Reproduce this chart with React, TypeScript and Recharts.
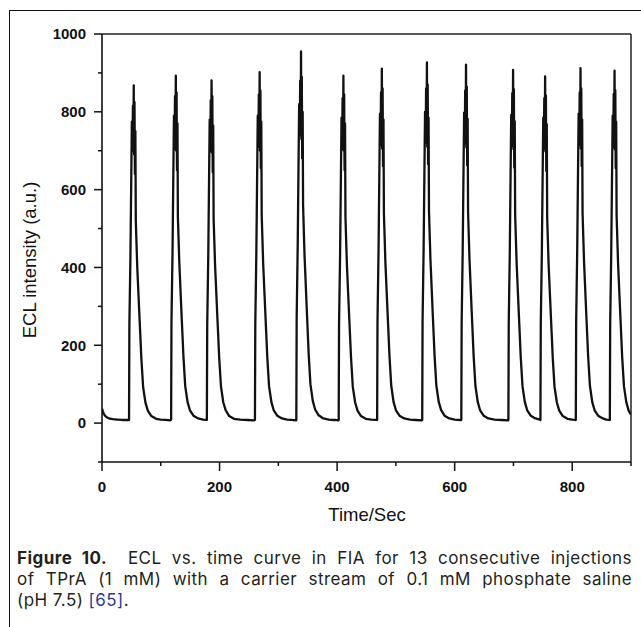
import { LineChart, Line, XAxis, YAxis, ReferenceLine, Label } from "recharts";

// ECL trace, [time (s), intensity (a.u.)] per injection
const leadIn = [[0, 37], [1.5, 30], [3, 24], [5, 19], [8, 15], [12, 12], [18, 10], [26, 9], [34, 8], [42, 8]];
const injection1 = [[46, 8], [46.6, 255], [48.4, 430], [50.8, 775], [51.8, 700], [52.6, 815], [53.4, 715], [54, 868], [54.6, 690], [55.3, 825], [56, 640], [56.8, 750], [57.5, 520], [60, 400], [64, 265], [67, 165], [70, 92], [74, 52], [78, 32], [84, 18], [92, 11], [100, 9], [108, 8], [116, 7]];
const injection2 = [[117.6, 9], [118.2, 260], [120, 440], [122.4, 790], [123.4, 705], [124.2, 840], [125, 730], [125.6, 893], [126.2, 700], [126.9, 850], [127.6, 650], [128.4, 770], [129.1, 530], [131.6, 410], [135.6, 270], [138.6, 170], [141.6, 95], [145.6, 54], [149.6, 33], [155.6, 19], [163.6, 12], [172, 9], [178, 8]];
const injection3 = [[178.4, 8], [179, 250], [180.8, 430], [183.2, 780], [184.2, 700], [185, 830], [185.8, 720], [186.4, 881], [187, 695], [187.7, 840], [188.4, 645], [189.2, 765], [189.9, 525], [192.4, 405], [196.4, 268], [199.4, 168], [202.4, 94], [206.4, 53], [210.4, 33], [216.4, 18], [224.4, 11], [235, 9], [248, 8], [258, 7]];
const injection4 = [[260.2, 8], [260.8, 255], [262.6, 440], [265, 790], [266, 710], [266.8, 845], [267.6, 735], [268.2, 902], [268.8, 700], [269.5, 855], [270.2, 655], [271, 775], [271.7, 535], [274.2, 410], [278.2, 272], [281.2, 170], [284.2, 95], [288.2, 54], [292.2, 33], [298.2, 19], [306.2, 12], [315, 9], [322, 8], [330, 7]];
const injection5 = [[330.6, 8], [331.2, 270], [333, 460], [335.4, 820], [336.4, 740], [337.2, 880], [338, 760], [338.6, 955], [339.2, 730], [339.9, 890], [340.6, 680], [341.4, 800], [342.1, 560], [344.6, 430], [348.6, 285], [351.6, 178], [354.6, 100], [358.6, 57], [362.6, 35], [368.6, 20], [376.6, 12], [386, 9], [396, 8], [402, 7]];
const injection6 = [[402.7, 8], [403.3, 255], [405.1, 435], [407.5, 785], [408.5, 705], [409.3, 835], [410.1, 725], [410.7, 893], [411.3, 700], [412, 845], [412.7, 650], [413.5, 770], [414.2, 530], [416.7, 405], [420.7, 268], [423.7, 168], [426.7, 93], [430.7, 53], [434.7, 32], [440.7, 18], [448.7, 11], [458, 9], [467, 8]];
const injection7 = [[468.1, 8], [468.7, 260], [470.5, 445], [472.9, 795], [473.9, 715], [474.7, 850], [475.5, 740], [476.1, 911], [476.7, 705], [477.4, 860], [478.1, 660], [478.9, 780], [479.6, 540], [482.1, 415], [486.1, 275], [489.1, 172], [492.1, 96], [496.1, 54], [500.1, 33], [506.1, 19], [514.1, 12], [524, 9], [534, 8], [544, 7]];
const injection8 = [[544.8, 8], [545.4, 262], [547.2, 450], [549.6, 800], [550.6, 720], [551.4, 860], [552.2, 745], [552.8, 927], [553.4, 710], [554.1, 870], [554.8, 665], [555.6, 785], [556.3, 545], [558.8, 420], [562.8, 278], [565.8, 174], [568.8, 97], [572.8, 55], [576.8, 34], [582.8, 19], [590.8, 12], [600, 9], [611, 8]];
const injection9 = [[611.3, 8], [611.9, 260], [613.7, 448], [616.1, 798], [617.1, 718], [617.9, 855], [618.7, 742], [619.3, 921], [619.9, 708], [620.6, 865], [621.3, 662], [622.1, 782], [622.8, 542], [625.3, 418], [629.3, 276], [632.3, 172], [635.3, 96], [639.3, 54], [643.3, 33], [649.3, 19], [657.3, 12], [668, 9], [680, 8], [691, 7]];
const injection10 = [[691.4, 8], [692, 258], [693.8, 442], [696.2, 792], [697.2, 712], [698, 848], [698.8, 736], [699.4, 908], [700, 704], [700.7, 858], [701.4, 656], [702.2, 776], [702.9, 536], [705.4, 412], [709.4, 273], [712.4, 170], [715.4, 95], [719.4, 54], [723.4, 33], [729.4, 19], [737.4, 12], [745, 9]];
const injection11 = [[745.9, 8], [746.5, 255], [748.3, 435], [750.7, 785], [751.7, 705], [752.5, 835], [753.3, 725], [753.9, 891], [754.5, 698], [755.2, 842], [755.9, 648], [756.7, 768], [757.4, 528], [759.9, 405], [763.9, 268], [766.9, 167], [769.9, 93], [773.9, 53], [777.9, 32], [783.9, 18], [791.9, 11], [800, 9], [805.5, 8]];
const injection12 = [[806.1, 8], [806.7, 260], [808.5, 445], [810.9, 795], [811.9, 715], [812.7, 850], [813.5, 740], [814.1, 912], [814.7, 705], [815.4, 860], [816.1, 660], [816.9, 780], [817.6, 540], [820.1, 415], [824.1, 274], [827.1, 171], [830.1, 96], [834.1, 54], [838.1, 33], [844.1, 19], [852.1, 12], [858, 9], [863, 8]];
const injection13 = [[864, 8], [864.6, 258], [866.4, 442], [868.8, 790], [869.8, 710], [870.6, 846], [871.4, 735], [872, 906], [872.6, 703], [873.3, 856], [874, 655], [874.8, 775], [875.5, 535], [878, 410], [882, 272], [885, 170], [888, 95], [892, 54], [896, 32], [900, 22]];

const xTicks = [0, 100, 200, 300, 400, 500, 600, 700, 800, 900];
const yTicks = [-100, 0, 100, 200, 300, 400, 500, 600, 700, 800, 900, 1000];

const data = [
  ...leadIn, ...injection1, ...injection2, ...injection3, ...injection4, ...injection5, ...injection6,
  ...injection7, ...injection8, ...injection9, ...injection10, ...injection11, ...injection12, ...injection13,
].map(([t, v]) => ({ t, v }));

const axisFont = "'Liberation Sans', Arial, sans-serif";
const ink = "#111";

const YTick = (props: any) => {
  const { x, y, payload } = props;
  const major = payload.value % 200 === 0;
  return (
    <g>
      <line x1={x - (major ? 8 : 4)} x2={x} y1={y} y2={y} stroke={ink} strokeWidth={1.5} />
      {major && (
        <text x={x - 16} y={y} dy="0.36em" textAnchor="end" fontFamily={axisFont} fontWeight="bold" fontSize={15} fill={ink}>
          {payload.value}
        </text>
      )}
    </g>
  );
};

const XTick = (props: any) => {
  const { x, y, payload } = props;
  const major = payload.value % 200 === 0;
  return (
    <g>
      <line x1={x} x2={x} y1={y} y2={y + (major ? 9 : 4)} stroke={ink} strokeWidth={1.5} />
      {major && (
        <text x={x} y={y + 30} textAnchor="middle" fontFamily={axisFont} fontWeight="bold" fontSize={15} fill={ink}>
          {payload.value}
        </text>
      )}
    </g>
  );
};

const captionLine = { textAlign: "justify" as const, textAlignLast: "justify" as const, whiteSpace: "nowrap" as const, height: 21 };

export default function App() {
  return (
    <div style={{ position: "absolute", left: 0, top: 0, width: 641, height: 627, overflow: "hidden", background: "#fff" }}>
      <div
        style={{
          position: "absolute", left: 8.5, top: 9.5, width: 700, height: 700,
          borderLeft: "1.3px solid #111", borderTop: "1.3px solid #111",
        }}
      />
      <LineChart
        width={641}
        height={540}
        data={data}
        margin={{ top: 34, right: 10, left: 0, bottom: 0 }}
        style={{ position: "absolute", left: 0, top: 0 }}
      >
        <XAxis
          dataKey="t"
          type="number"
          domain={[0, 900]}
          ticks={xTicks}
          interval={0}
          allowDataOverflow
          height={78}
          tickSize={0}
          tickMargin={0}
          tickLine={false}
          tick={<XTick />}
          axisLine={{ stroke: ink, strokeWidth: 1.6 }}
        >
          <Label
            content={() => (
              <text x={367} y={521} textAnchor="middle" fontFamily={axisFont} fontSize={18.5} fill={ink}>
                Time/Sec
              </text>
            )}
          />
        </XAxis>
        <YAxis
          type="number"
          domain={[-100, 1000]}
          ticks={yTicks}
          interval={0}
          allowDataOverflow
          width={102}
          tickSize={0}
          tickMargin={0}
          tickLine={false}
          tick={<YTick />}
          axisLine={{ stroke: ink, strokeWidth: 1.6 }}
        >
          <Label
            content={() => (
              <text
                x={29}
                y={260}
                transform="rotate(-90, 29, 260)"
                textAnchor="middle"
                dominantBaseline="central"
                fontFamily={axisFont}
                fontSize={18.5}
                fill={ink}
              >
                ECL intensity (a.u.)
              </text>
            )}
          />
        </YAxis>
        <ReferenceLine y={1000} stroke="#222" strokeWidth={1.5} />
        <ReferenceLine x={900} stroke="#222" strokeWidth={1.5} />
        <Line
          type="linear"
          dataKey="v"
          stroke={ink}
          strokeWidth={2.3}
          strokeLinejoin="round"
          dot={false}
          isAnimationActive={false}
        />
      </LineChart>
      <div
        style={{
          position: "absolute", left: 17, top: 548, width: 615,
          fontFamily: "Inter, 'Open Sans', sans-serif", fontSize: 17, letterSpacing: "0.45px",
          lineHeight: "21px", color: "#231f20",
        }}
      >
        <div style={captionLine}>
          <b>Figure 10.</b>&nbsp; ECL vs. time curve in FIA for 13 consecutive injections
        </div>
        <div style={captionLine}>
          of TPrA (1 mM) with a carrier stream of 0.1 mM phosphate saline
        </div>
        <div style={{ height: 21 }}>
          (pH 7.5) <span style={{ color: "#2b3990" }}>[65]</span>.
        </div>
      </div>
    </div>
  );
}
